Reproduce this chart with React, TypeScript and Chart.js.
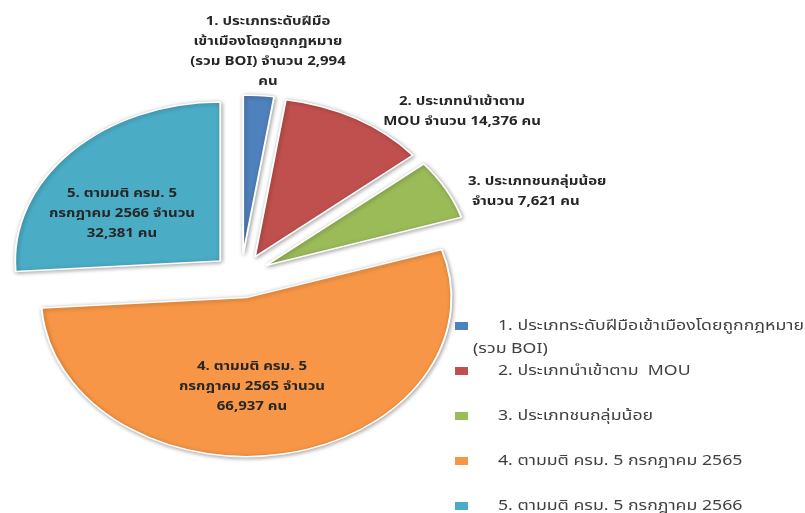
import React, { useEffect, useRef } from "react";
import { Chart, registerables } from "chart.js";

Chart.register(...registerables);

// ---------- data ----------
const categories = [
  "1. ประเภทระดับฝีมือเข้าเมืองโดยถูกกฎหมาย (รวม BOI)",
  "2. ประเภทนำเข้าตาม  MOU",
  "3. ประเภทชนกลุ่มน้อย",
  "4. ตามมติ ครม. 5 กรกฎาคม 2565",
  "5. ตามมติ ครม. 5 กรกฎาคม 2566",
];
const values = [2994, 14376, 7621, 66937, 32381];
const colors = ["#4F81BD", "#C0504D", "#9BBB59", "#F79646", "#4BACC6"];

const fmt = (v: number) => v.toLocaleString("en-US");
// data-label lines (text), numbers come from values
const labelLines = (i: number): string[] => {
  const n = fmt(values[i]);
  switch (i) {
    case 0:
      return ["1. ประเภทระดับฝีมือ", "เข้าเมืองโดยถูกกฎหมาย", `(รวม BOI) จำนวน ${n}`, "คน"];
    case 1:
      return ["2. ประเภทนำเข้าตาม", `MOU จำนวน ${n} คน`];
    case 2:
      return ["3. ประเภทชนกลุ่มน้อย", ` จำนวน ${n} คน`];
    case 3:
      return ["4. ตามมติ ครม. 5", "กรกฎาคม 2565 จำนวน", `${n} คน`];
    default:
      return ["5. ตามมติ ครม. 5", "กรกฎาคม 2566 จำนวน", `${n} คน`];
  }
};

// ---------- layout / style ----------
const W = 805;
const H = 513;
const CX = 241;
const CY = 276;
const R = 159;
const AX = 1.29;
const EXPLODE = 22;
const FONT = "Tahoma, 'Noto Sans Thai', 'Noto Sans', sans-serif";
const LABEL_SX = 1.25;
const LEGEND_SX = 1.22;

const labelLayout = [
  { x: 268, y: 23, align: "center" },
  { x: 462, y: 103, align: "center" },
  { x: 468, y: 183, align: "left" },
  { x: 252, y: 368, align: "center" },
  { x: 122, y: 195, align: "center" },
];

function drawText(
  ctx: CanvasRenderingContext2D,
  t: string,
  x: number,
  y: number,
  sx: number,
  align: string
) {
  const w = ctx.measureText(t).width * sx;
  let left = x;
  if (align === "center") left = x - w / 2;
  else if (align === "right") left = x - w;
  ctx.save();
  ctx.translate(left, y);
  ctx.scale(sx, 1);
  ctx.textAlign = "left";
  ctx.fillText(t, 0, 0);
  ctx.restore();
}

const piePlugin = {
  id: "pieDraw",
  beforeDatasetsDraw(chart: any) {
    const meta = chart.getDatasetMeta(0);
    const ctx = chart.ctx as CanvasRenderingContext2D;
    meta.data.forEach((arc: any) => {
      const p = arc.getProps(["x", "y", "startAngle", "endAngle"], true);
      const mid = (p.startAngle + p.endAngle) / 2;
      ctx.save();
      ctx.translate(CX, CY);
      ctx.scale(AX, 1);
      ctx.translate(Math.cos(mid) * EXPLODE, Math.sin(mid) * EXPLODE);
      ctx.translate(-p.x, -p.y);
      ctx.shadowColor = "rgba(0,0,0,0.35)";
      ctx.shadowBlur = 4;
      ctx.shadowOffsetX = 1;
      ctx.shadowOffsetY = 1;
      arc.draw(ctx, chart.chartArea);
      ctx.restore();
    });
    return false;
  },
  afterDraw(chart: any) {
    const ctx = chart.ctx as CanvasRenderingContext2D;
    // data labels
    ctx.save();
    ctx.font = `bold 12px ${FONT}`;
    ctx.fillStyle = "#262626";
    ctx.textBaseline = "middle";
    values.forEach((_, i) => {
      const L = labelLayout[i];
      labelLines(i).forEach((t, j) => drawText(ctx, t, L.x, L.y + j * 20, LABEL_SX, L.align));
    });
    ctx.restore();

    // legend
    ctx.save();
    ctx.font = `14.5px ${FONT}`;
    ctx.textBaseline = "middle";
    const boxX = 455;
    const textX = 498;
    const contX = 473;
    const startY = 327;
    const step = 45;
    const labels: string[] = chart.data.labels;
    const bg: string[] = chart.data.datasets[0].backgroundColor;
    labels.forEach((lab, i) => {
      const y = startY + i * step;
      ctx.fillStyle = bg[i];
      ctx.fillRect(boxX, y - 5, 13, 8);
      ctx.fillStyle = "#404040";
      const words = lab.split(" ");
      let line = "";
      let lx = textX;
      let ly = y;
      const maxR = W - 1;
      for (const w of words) {
        const test = line ? line + " " + w : w;
        if (line && lx + ctx.measureText(test).width * LEGEND_SX > maxR) {
          drawText(ctx, line, lx, ly, LEGEND_SX, "left");
          line = w;
          lx = contX;
          ly += 23;
        } else {
          line = test;
        }
      }
      if (line) drawText(ctx, line, lx, ly, LEGEND_SX, "left");
    });
    ctx.restore();
  },
};

export default function App() {
  const ref = useRef<HTMLCanvasElement | null>(null);
  useEffect(() => {
    document.body.style.margin = "0";
    if (!ref.current) return;
    const chart = new Chart(ref.current, {
      type: "pie",
      data: {
        labels: categories,
        datasets: [
          {
            data: values,
            backgroundColor: colors,
            borderColor: "#ffffff",
            borderWidth: 1.5,
            offset: 0,
            hoverOffset: 0,
          } as any,
        ],
      },
      options: {
        responsive: false,
        animation: false,
        radius: R,
        rotation: 0,
        layout: { padding: 0 },
        plugins: {
          legend: { display: false },
          tooltip: { enabled: false },
          title: { display: false },
        },
        events: [],
      } as any,
      plugins: [piePlugin],
    });
    return () => chart.destroy();
  }, []);
  return (
    <div style={{ width: W, height: H, background: "#fff" }}>
      <canvas ref={ref} width={W} height={H} style={{ display: "block" }} />
    </div>
  );
}
